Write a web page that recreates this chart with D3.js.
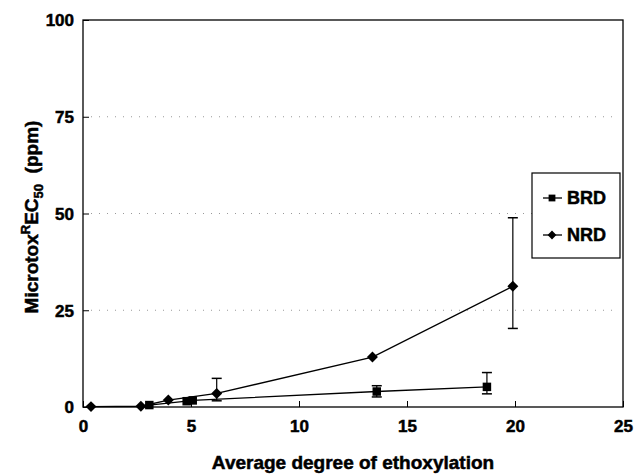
<!DOCTYPE html>
<html>
<head>
<meta charset="utf-8">
<script src="https://cdn.jsdelivr.net/npm/d3@7"></script>
<style>
  body { margin: 0; background: #fff; }
  text { font-family: "Liberation Sans", Arial, sans-serif; font-weight: bold; fill: #000; stroke: #000; stroke-width: 0.5px; }
</style>
</head>
<body>
<div id="chart"></div>
<script>
// values
let xTicks = [0, 5, 10, 15, 20, 25];
let yTicks = [0, 25, 50, 75, 100];
let gridValues = [25, 50, 75];

let brdX = [3.07, 4.8, 5.08, 13.6, 18.7];
let brdY = [0.5, 1.5, 1.7, 4.0, 5.2];
let brdLow = [null, null, null, 2.6, 3.4];
let brdHigh = [null, null, null, 5.5, 8.9];

let nrdX = [0.37, 2.68, 3.95, 6.19, 13.4, 19.9];
let nrdY = [0.1, 0.2, 1.8, 3.5, 12.9, 31.2];
let nrdLow = [null, null, null, 1.6, null, 20.3];
let nrdHigh = [null, null, null, 7.4, null, 48.9];

let width = 639, height = 474;
let svg = d3.select("#chart").append("svg")
    .attr("width", width)
    .attr("height", height);

let x = d3.scaleLinear().domain([0, 25]).range([83, 623]);
let y = d3.scaleLinear().domain([0, 100]).range([407, 20]);

// dotted grid lines
svg.selectAll(".grid")
    .data(gridValues)
    .enter()
    .append("line")
    .attr("x1", x(0) + 8)
    .attr("x2", x(25) - 4)
    .attr("y1", d => y(d))
    .attr("y2", d => y(d))
    .attr("stroke", "#999")
    .attr("stroke-width", 1)
    .attr("stroke-dasharray", "1,7");

// frame
svg.append("rect")
    .attr("x", x(0)).attr("y", y(100))
    .attr("width", x(25) - x(0)).attr("height", y(0) - y(100))
    .attr("fill", "none").attr("stroke", "#000").attr("stroke-width", 1.3);

let xAxis = svg.append("g").attr("transform", `translate(0,${y(0)})`)
    .call(d3.axisBottom(x).tickValues(xTicks).tickSize(-6).tickPadding(13).tickFormat(d3.format("d")));
let yAxis = svg.append("g").attr("transform", `translate(${x(0)},0)`)
    .call(d3.axisLeft(y).tickValues(yTicks).tickSize(-6).tickPadding(9).tickFormat(d3.format("d")));
[xAxis, yAxis].forEach(g => {
    g.select(".domain").remove();
    g.selectAll(".tick line").attr("stroke", "#000");
    g.selectAll("text").style("font-size", "17px").style("font-family", "Liberation Sans, Arial, sans-serif")
        .style("font-weight", "bold").style("stroke", "#000").style("stroke-width", "0.5px");
});
yAxis.selectAll(".tick text").attr("dy", "0.35em");

// lines
let line = d3.line().x(d => x(d[0])).y(d => y(d[1]));
let brd = brdX.map((v, i) => [v, brdY[i], brdLow[i], brdHigh[i]]);
let nrd = nrdX.map((v, i) => [v, nrdY[i], nrdLow[i], nrdHigh[i]]);

[brd, nrd].forEach(s => {
    svg.append("path").datum(s).attr("d", line)
        .attr("fill", "none").attr("stroke", "#000").attr("stroke-width", 1.3);
    let eb = s.filter(d => d[2] != null);
    eb.forEach(d => {
        svg.append("line").attr("x1", x(d[0])).attr("x2", x(d[0]))
            .attr("y1", y(d[2])).attr("y2", y(d[3])).attr("stroke", "#000").attr("stroke-width", 1.2);
        [d[2], d[3]].forEach(v => {
            svg.append("line").attr("x1", x(d[0]) - 5).attr("x2", x(d[0]) + 5)
                .attr("y1", y(v)).attr("y2", y(v)).attr("stroke", "#000").attr("stroke-width", 1.5);
        });
    });
});

let squareSym = d3.symbol().type(d3.symbolSquare).size(72);
let diamondSym = d3.symbol().type(d3.symbolSquare).size(60);

svg.selectAll(".brd").data(brd).enter().append("path")
    .attr("d", squareSym)
    .attr("transform", d => `translate(${x(d[0])},${y(d[1])})`)
    .attr("fill", "#000");
svg.selectAll(".nrd").data(nrd).enter().append("path")
    .attr("d", diamondSym)
    .attr("transform", d => `translate(${x(d[0])},${y(d[1])}) rotate(45)`)
    .attr("fill", "#000");

// legend
let lg = svg.append("g");
lg.append("rect").attr("x", 532).attr("y", 173).attr("width", 88).attr("height", 85)
    .attr("fill", "#fff").attr("stroke", "#000").attr("stroke-width", 1.2);
let legendItems = [["BRD", squareSym, 198, 0], ["NRD", diamondSym, 235, 45]];
legendItems.forEach(([name, sym, ly, rot]) => {
    lg.append("line").attr("x1", 543).attr("x2", 562).attr("y1", ly).attr("y2", ly)
        .attr("stroke", "#000").attr("stroke-width", 1.3);
    lg.append("path").attr("d", sym).attr("transform", `translate(552,${ly}) rotate(${rot}) scale(0.8)`).attr("fill", "#000");
    lg.append("text").attr("x", 567).attr("y", ly).attr("dy", "0.36em")
        .style("font-size", "18px").text(name);
});

// axis titles
svg.append("text").attr("x", (x(0) + x(25)) / 2).attr("y", 469)
    .attr("text-anchor", "middle").style("font-size", "19px")
    .text("Average degree of ethoxylation");

let yt = svg.append("text").attr("transform", "translate(38,217) rotate(-90)")
    .attr("text-anchor", "middle").style("font-size", "19px");
yt.append("tspan").text("Microtox");
yt.append("tspan").attr("dy", "-8").style("font-size", "13px").text("R");
yt.append("tspan").attr("dy", "8").text("EC");
yt.append("tspan").attr("dy", "5").style("font-size", "13px").text("50");
yt.append("tspan").attr("dy", "-5").text("\u00a0\u00a0(ppm)");
</script>
</body>
</html>
